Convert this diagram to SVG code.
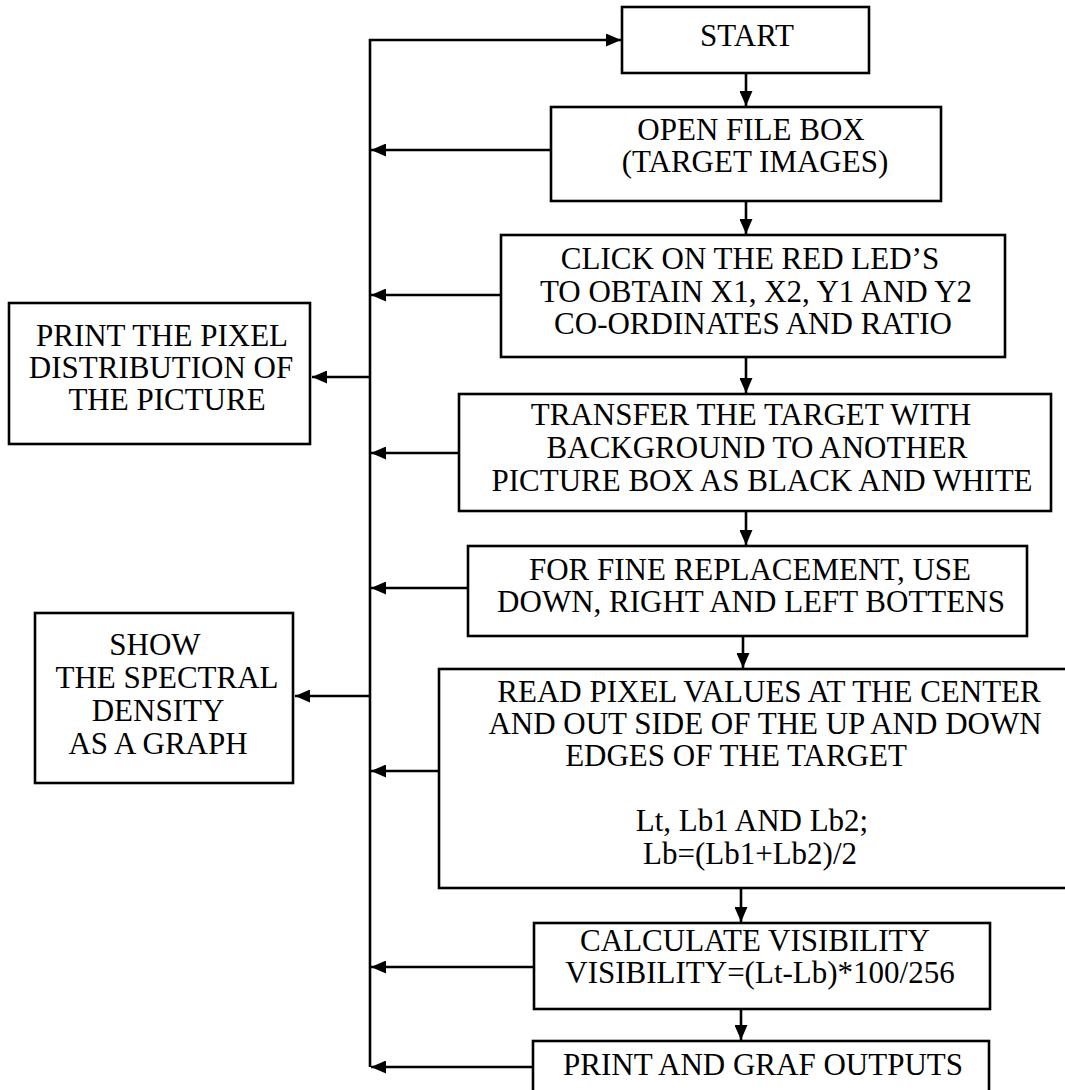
<svg xmlns="http://www.w3.org/2000/svg" width="1065" height="1090" viewBox="0 0 1065 1090">
<style>
.box{fill:#fff;stroke:#000;stroke-width:2.6}
.t{font-family:"Liberation Serif","Times New Roman",serif;font-size:31px;fill:#000;text-anchor:middle}
.ln{fill:none;stroke:#000;stroke-width:2.6}
</style>
<defs>
<marker id="ah" markerUnits="userSpaceOnUse" markerWidth="16" markerHeight="13" refX="15" refY="6.5" orient="auto">
<path d="M0,0 L15,6.5 L0,13 z" fill="#000"/>
</marker>
</defs>
<rect width="1065" height="1090" fill="#fff"/>
<g id="connectors">
<path class="ln" d="M370,1067 V40 H621" marker-end="url(#ah)"/>
<path class="ln" d="M746,73 V106" marker-end="url(#ah)"/>
<path class="ln" d="M746,201 V234" marker-end="url(#ah)"/>
<path class="ln" d="M746,357 V393" marker-end="url(#ah)"/>
<path class="ln" d="M746,511 V545" marker-end="url(#ah)"/>
<path class="ln" d="M743,636 V668" marker-end="url(#ah)"/>
<path class="ln" d="M741,888 V922" marker-end="url(#ah)"/>
<path class="ln" d="M741,1009 V1040" marker-end="url(#ah)"/>
<path class="ln" d="M551,150 H371" marker-end="url(#ah)"/>
<path class="ln" d="M501,295 H371" marker-end="url(#ah)"/>
<path class="ln" d="M459,453 H371" marker-end="url(#ah)"/>
<path class="ln" d="M468,588 H371" marker-end="url(#ah)"/>
<path class="ln" d="M439,771 H371" marker-end="url(#ah)"/>
<path class="ln" d="M534,967 H371" marker-end="url(#ah)"/>
<path class="ln" d="M533,1067 H371" marker-end="url(#ah)"/>
<path class="ln" d="M370,377 H312" marker-end="url(#ah)"/>
<path class="ln" d="M370,696 H295" marker-end="url(#ah)"/>
</g>
<g id="start">
<rect class="box" x="622" y="7" width="247" height="66"/>
<text class="t" x="747" y="46">START</text>
</g>
<g id="openfile">
<rect class="box" x="551" y="107" width="390" height="94"/>
<text class="t" x="751" y="140">OPEN FILE BOX</text>
<text class="t" x="755" y="172">(TARGET IMAGES)</text>
</g>
<g id="click">
<rect class="box" x="501" y="235" width="504" height="122"/>
<text class="t" x="750" y="269">CLICK ON THE RED LED’S</text>
<text class="t" x="756" y="302">TO OBTAIN X1, X2, Y1 AND Y2</text>
<text class="t" x="753" y="334">CO-ORDINATES AND RATIO</text>
</g>
<g id="transfer">
<rect class="box" x="459" y="394" width="592" height="117"/>
<text class="t" x="751" y="425">TRANSFER THE TARGET WITH</text>
<text class="t" x="757" y="458">BACKGROUND TO ANOTHER</text>
<text class="t" x="762" y="491">PICTURE BOX AS BLACK AND WHITE</text>
</g>
<g id="finereplace">
<rect class="box" x="468" y="546" width="559" height="90"/>
<text class="t" x="750" y="580">FOR FINE REPLACEMENT, USE</text>
<text class="t" x="751" y="612">DOWN, RIGHT AND LEFT BOTTENS</text>
</g>
<g id="readpixel">
<rect class="box" x="439" y="669" width="640" height="219"/>
<text class="t" x="769" y="702">READ PIXEL VALUES AT THE CENTER</text>
<text class="t" x="765" y="734">AND OUT SIDE OF THE UP AND DOWN</text>
<text class="t" x="736" y="766">EDGES OF THE TARGET</text>
<text class="t" x="752" y="831">Lt, Lb1 AND Lb2;</text>
<text class="t" x="750" y="864">Lb=(Lb1+Lb2)/2</text>
</g>
<g id="calculate">
<rect class="box" x="534" y="923" width="456" height="86"/>
<text class="t" x="755" y="951">CALCULATE VISIBILITY</text>
<text class="t" x="760" y="983">VISIBILITY=(Lt-Lb)*100/256</text>
</g>
<g id="printgraf">
<rect class="box" x="533" y="1041" width="456" height="70"/>
<text class="t" x="763" y="1075">PRINT AND GRAF OUTPUTS</text>
</g>
<g id="printpixel">
<rect class="box" x="9" y="303" width="301" height="141"/>
<text class="t" x="162" y="346">PRINT THE PIXEL</text>
<text class="t" x="161" y="378">DISTRIBUTION OF</text>
<text class="t" x="167" y="410">THE PICTURE</text>
</g>
<g id="spectral">
<rect class="box" x="35" y="613" width="258" height="170"/>
<text class="t" x="155" y="655">SHOW</text>
<text class="t" x="167" y="688">THE SPECTRAL</text>
<text class="t" x="158" y="721">DENSITY</text>
<text class="t" x="158" y="754">AS A GRAPH</text>
</g>
</svg>
